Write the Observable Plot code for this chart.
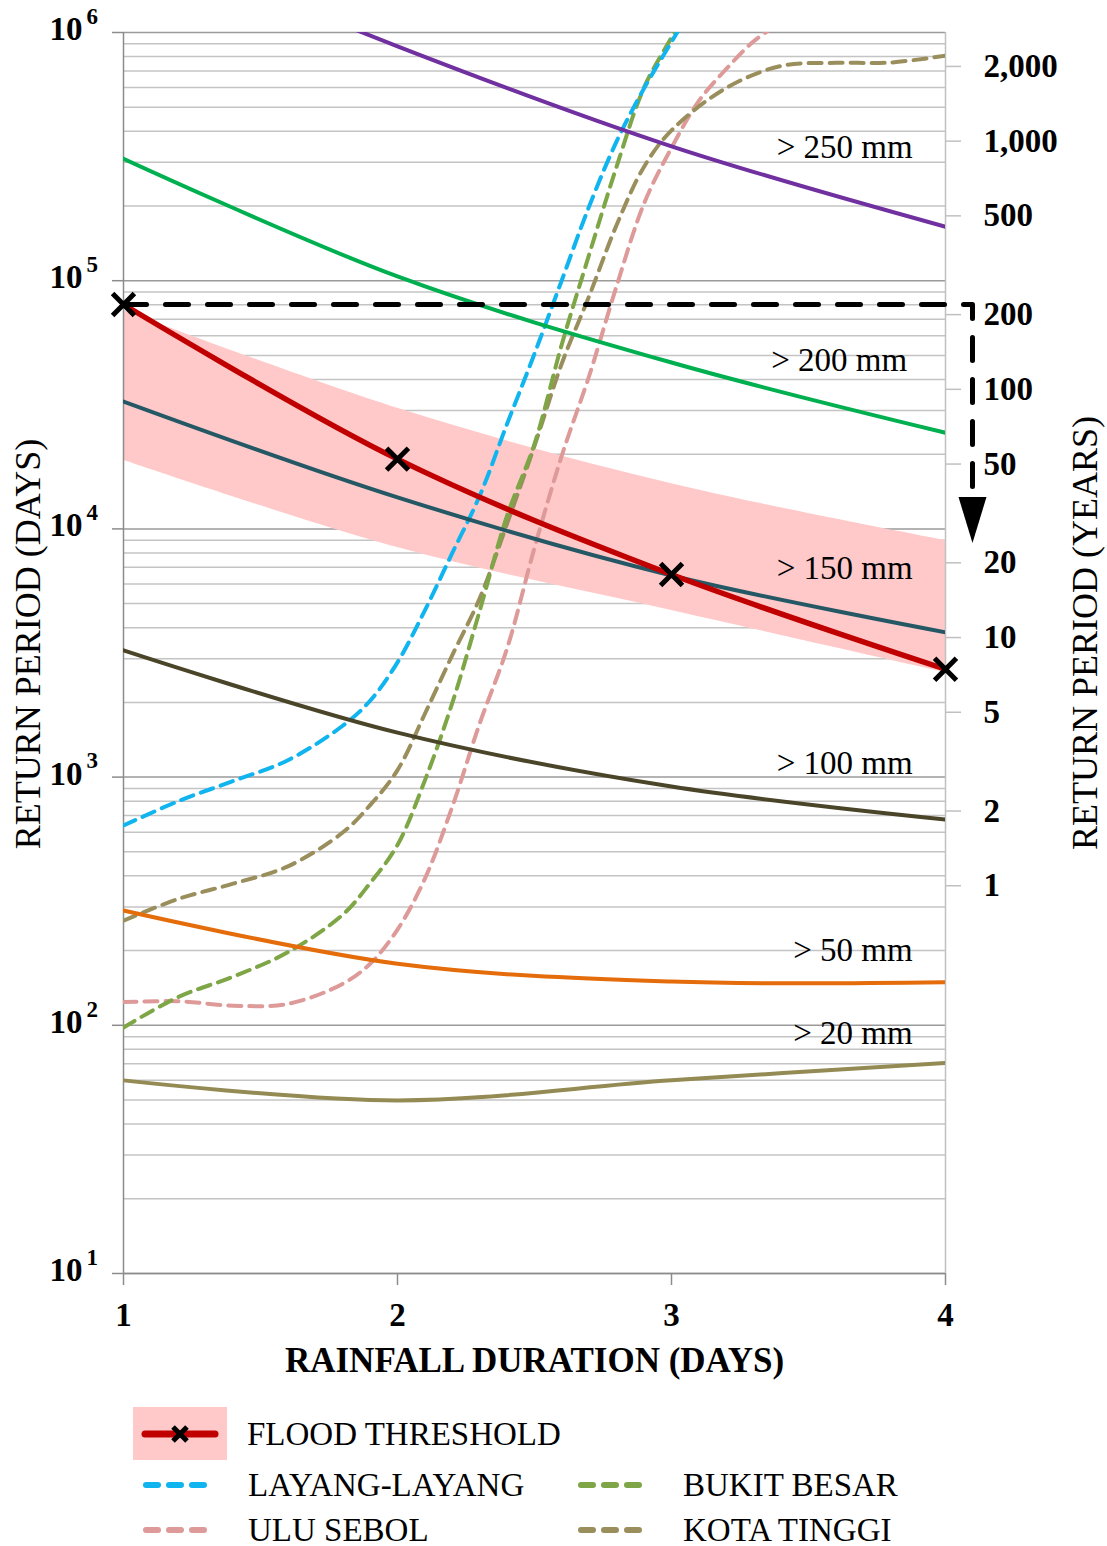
<!DOCTYPE html>
<html>
<head>
<meta charset="utf-8">
<script src="https://cdn.jsdelivr.net/npm/d3@7"></script>
<script src="https://cdn.jsdelivr.net/npm/@observablehq/plot@0.6"></script>
<style>
  body { margin: 0; background: #fff; }
  #wrap { position: relative; width: 1107px; height: 1546px; background: #fff; font-family: 'Liberation Serif', serif; color: #000; }
  .lg { position: absolute; height: 40px; line-height: 40px; font-size: 33px; white-space: nowrap; }
  .sw { position: absolute; }
</style>
</head>
<body>
<div id="wrap"></div>
<script>
// ---------------- DATA ----------------
const days = [1, 2, 3, 4];
// rainfall thresholds, return period in days
const rain250 = [2500000, 880000, 348000, 165000];
const rain200 = [310000, 104000, 46800, 24400];
const rain150 = [32600, 13400, 6490, 3830];
const rain100 = [3240, 1510, 916, 675];
const rain50 = [290, 177, 150, 149];
const rain20 = [60, 49.8, 60, 70.5];
const rainLabels = ["> 250 mm", "> 200 mm", "> 150 mm", "> 100 mm", "> 50 mm", "> 20 mm"];
const rainLabelDay = [3.88, 3.86, 3.88, 3.88, 3.88, 3.88];
const rainLabelValue = [344000, 47700, 6900, 1135, 200, 92.7];

// flood threshold and its band
const floodThreshold = [80200, 19100, 6550, 2720];
const bandUpper = [75900, 30600, 15200, 8980];
const bandLower = [18900, 8410, 4690, 2640];

// stations (dashed)
const layangDays = [1, 1.2, 1.4, 1.6, 1.8, 1.9, 2, 2.1, 2.2, 2.3, 2.4, 2.5, 2.6, 2.7, 2.8, 2.9, 3, 3.1];
const layangValues = [638, 800, 964, 1170, 1610, 2030, 2900, 4700, 8000, 13600, 26500, 50800, 100700, 200000, 365000, 596000, 916000, 1400000];
const bukitDays = [1, 1.2, 1.4, 1.6, 1.8, 1.9, 2, 2.1, 2.2, 2.3, 2.4, 2.5, 2.6, 2.7, 2.8, 2.9, 3, 3.1];
const bukitValues = [98, 130, 157, 197, 279, 374, 533, 970, 1990, 4680, 11300, 22000, 55600, 128000, 289000, 601000, 955000, 1500000];
const uluDays = [1, 1.2, 1.4, 1.6, 1.8, 1.9, 2, 2.1, 2.2, 2.3, 2.4, 2.5, 2.6, 2.7, 2.8, 2.9, 3, 3.1, 3.2, 3.3, 3.4];
const uluValues = [124, 125, 120, 122, 147, 177, 243, 390, 760, 1645, 3300, 8400, 19800, 41500, 95500, 205000, 343000, 530000, 713000, 922000, 1100000];
const kotaDays = [1, 1.2, 1.4, 1.6, 1.8, 1.9, 2, 2.1, 2.2, 2.3, 2.4, 2.5, 2.6, 2.7, 2.8, 2.9, 3, 3.2, 3.4, 3.6, 3.8, 4];
const kotaValues = [264, 323, 372, 437, 598, 771, 1067, 1800, 3100, 5250, 10500, 21600, 46500, 87000, 168000, 288000, 403000, 598000, 733000, 755000, 757000, 807000];

// annotation arrow (dashed line from threshold level, pointing down)
const arrowDay = 4.0985;
const arrowBaseValue = 13200;

// axes
const xTicks = [1, 2, 3, 4];
const decades = [10, 100, 1000, 10000, 100000, 1000000];
const yearTicks = [1, 2, 5, 10, 20, 50, 100, 200, 500, 1000, 2000];
const daysPerYear = 365;

// ---------------- BUILD ----------------
const zip = (xs, ys) => xs.map((x, i) => ({x, y: ys[i]}));
const solid = [
  {data: zip(days, rain250), color: "#7030a0"},
  {data: zip(days, rain200), color: "#00b050"},
  {data: zip(days, rain150), color: "#255865"},
  {data: zip(days, rain100), color: "#4a4529"},
  {data: zip(days, rain50), color: "#e46c0a"},
  {data: zip(days, rain20), color: "#948a54"}
];
const dashed = [
  {data: zip(uluDays, uluValues), color: "#dd9a98"},
  {data: zip(kotaDays, kotaValues), color: "#9a8f5c"},
  {data: zip(bukitDays, bukitValues), color: "#7ea646"},
  {data: zip(layangDays, layangValues), color: "#10b4ef"}
];
const band = days.map((d, i) => ({x: d, lo: bandLower[i], hi: bandUpper[i]}));
const flood = zip(days, floodThreshold);
const labels = rainLabels.map((t, i) => ({t, x: rainLabelDay[i], y: rainLabelValue[i]}));
const arrowPath = [
  {x: 1, y: floodThreshold[0]},
  {x: arrowDay, y: floodThreshold[0]},
  {x: arrowDay, y: arrowBaseValue}
];
const yearTickDays = yearTicks.map(y => y * daysPerYear);
const minorTicks = d3.scaleLog().domain([10, 1e6]).ticks().filter(v => !decades.includes(v));

const arrowHead = {
  draw(ctx) {
    ctx.moveTo(-14, -2);
    ctx.lineTo(14, -2);
    ctx.lineTo(0, 44);
    ctx.closePath();
  }
};

const marks = [
  Plot.ruleY(minorTicks, {stroke: "#c4c4c4", strokeWidth: 1.5}),
  Plot.ruleY(decades, {stroke: "#9a9a9a", strokeWidth: 1.5}),
  Plot.areaY(band, {x: "x", y1: "lo", y2: "hi", fill: "#ffc9c9", curve: "catmull-rom"}),
  Plot.ruleX([4], {stroke: "#c0c0c0", strokeWidth: 1.5}),
  Plot.ruleX([1], {stroke: "#8c8c8c", strokeWidth: 1.5}),
  Plot.ruleY([10], {stroke: "#8c8c8c", strokeWidth: 1.5}),
  Plot.axisX({ticks: xTicks, tickSize: 12, tickPadding: 17, tickFormat: d3.format("d"), stroke: "#8c8c8c", strokeWidth: 1.5, fontSize: 33, fontWeight: "bold", label: null}),
  Plot.axisY({ticks: decades, tickSize: 11, tickFormat: () => "", stroke: "#8c8c8c", strokeWidth: 1.5, label: null}),
  Plot.axisY({anchor: "right", ticks: yearTickDays, tickFormat: () => "", tickSize: 15, stroke: "#c0c0c0", strokeWidth: 1.5, label: null}),
  // right axis labels (years)
  Plot.text(yearTickDays, {x: () => 4, y: d => d, text: d => d3.format(",")(Math.round(d / daysPerYear)), textAnchor: "start", dx: 38, fontSize: 33, fontWeight: "bold"}),
  // decade labels 10^n
  Plot.text(decades, {x: () => 1, y: d => d, text: () => "10", textAnchor: "end", dx: -41, dy: -3, fontSize: 33, fontWeight: "bold"}),
  Plot.text(decades, {x: () => 1, y: d => d, text: d => String(Math.round(Math.log10(d))), textAnchor: "start", dx: -37, dy: -16, fontSize: 23, fontWeight: "bold"}),
  // axis titles
  Plot.text(["RAINFALL DURATION (DAYS)"], {frameAnchor: "bottom", textAnchor: "middle", dy: 98, fontSize: 35, fontWeight: "bold"}),
  Plot.text(["RETURN PERIOD (DAYS)"], {frameAnchor: "left", textAnchor: "middle", dx: -95, dy: -9, rotate: -90, fontSize: 36}),
  Plot.text(["RETURN PERIOD (YEARS)"], {frameAnchor: "right", textAnchor: "middle", dx: 140, dy: -20, rotate: -90, fontSize: 36}),
  // station curves (dashed)
  ...dashed.map(s => Plot.line(s.data, {x: "x", y: "y", stroke: s.color, strokeWidth: 4, strokeDasharray: "13,8", curve: "catmull-rom", clip: true})),
  // rainfall curves (solid)
  ...solid.map(s => Plot.line(s.data, {x: "x", y: "y", stroke: s.color, strokeWidth: 4, curve: "catmull-rom", clip: true})),
  // flood threshold
  Plot.line(flood, {x: "x", y: "y", stroke: "#c00000", strokeWidth: 5.5, curve: "catmull-rom"}),
  Plot.dot(flood, {x: "x", y: "y", symbol: "times", r: 10, stroke: "black", strokeWidth: 5}),
  // annotation
  Plot.line(arrowPath, {x: "x", y: "y", stroke: "black", strokeWidth: 5, strokeDasharray: "23,19"}),
  Plot.dot([arrowPath[2]], {x: "x", y: "y", symbol: arrowHead, fill: "black", r: 10}),
  // rainfall labels
  Plot.text(labels, {x: "x", y: "y", text: "t", textAnchor: "end", fontSize: 33, ariaLabel: "rain-labels"})
];

const svg = Plot.plot({
  width: 1107,
  height: 1390,
  marginTop: 32,
  marginRight: 162,
  marginBottom: 117,
  marginLeft: 123,
  style: {fontFamily: "'Liberation Serif', serif", fontSize: "33px", color: "#000", background: "#fff", overflow: "visible"},
  x: {domain: [1, 4], axis: null},
  y: {type: "log", domain: [10, 1e6], axis: null},
  marks
});
const wrap = document.getElementById("wrap");
wrap.appendChild(svg);

// white boxes behind rainfall labels
const ns = "http://www.w3.org/2000/svg";
const lg = svg.querySelector('g[aria-label="rain-labels"]');
if (lg) {
  lg.querySelectorAll("text").forEach(t => {
    const b = t.getBBox();
    const r = document.createElementNS(ns, "rect");
    r.setAttribute("x", b.x - 8);
    r.setAttribute("y", b.y);
    r.setAttribute("width", b.width + 16);
    r.setAttribute("height", b.height);
    r.setAttribute("fill", "white");
    const tr = t.getAttribute("transform");
    if (tr) r.setAttribute("transform", tr);
    t.parentNode.insertBefore(r, t);
  });
}

// ---------------- LEGEND ----------------
function dashSwatch(left, cy, color) {
  const s = document.createElementNS(ns, "svg");
  s.setAttribute("width", 70); s.setAttribute("height", 12);
  s.setAttribute("class", "sw");
  s.style.left = left + "px"; s.style.top = (cy - 6) + "px";
  const l = document.createElementNS(ns, "line");
  l.setAttribute("x1", 3); l.setAttribute("x2", 67); l.setAttribute("y1", 6); l.setAttribute("y2", 6);
  l.setAttribute("stroke", color); l.setAttribute("stroke-width", 6);
  l.setAttribute("stroke-linecap", "round"); l.setAttribute("stroke-dasharray", "12,11");
  s.appendChild(l);
  wrap.appendChild(s);
}
function label(left, cy, text) {
  const d = document.createElement("div");
  d.className = "lg"; d.textContent = text;
  d.style.left = left + "px"; d.style.top = (cy - 20) + "px";
  wrap.appendChild(d);
}
// flood threshold swatch
(function () {
  const s = document.createElementNS(ns, "svg");
  s.setAttribute("width", 94); s.setAttribute("height", 53);
  s.setAttribute("class", "sw");
  s.style.left = "133px"; s.style.top = "1407px";
  s.innerHTML = '<rect x="0" y="0" width="94" height="53" fill="#ffc9c9"/>' +
    '<line x1="12" x2="82" y1="27" y2="27" stroke="#c00000" stroke-width="7" stroke-linecap="round"/>' +
    '<path d="M40,20L54,34M54,20L40,34" stroke="black" stroke-width="5"/>';
  wrap.appendChild(s);
})();
label(247, 1434, "FLOOD THRESHOLD");
dashSwatch(143, 1485, "#10b4ef");
label(248, 1485, "LAYANG-LAYANG");
dashSwatch(578, 1485, "#7ea646");
label(683, 1485, "BUKIT BESAR");
dashSwatch(143, 1530, "#dd9a98");
label(248, 1530, "ULU SEBOL");
dashSwatch(578, 1530, "#9a8f5c");
label(683, 1530, "KOTA TINGGI");
</script>
</body>
</html>
